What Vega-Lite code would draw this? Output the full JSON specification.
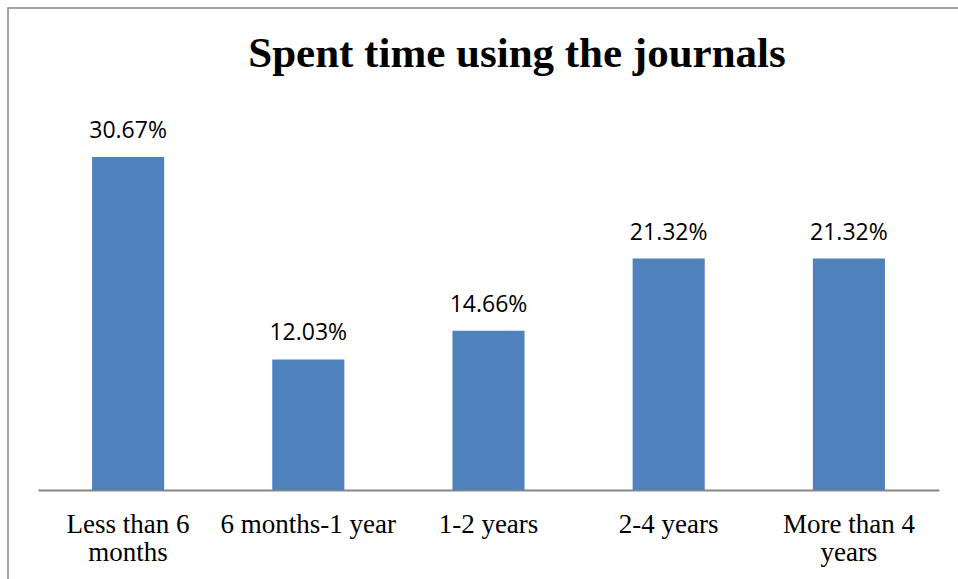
{
  "$schema": "https://vega.github.io/schema/vega-lite/v6.json",
  "autosize": {"type": "none"},
  "padding": {"left": 8, "top": 8, "right": 0, "bottom": 0},
  "width": 962,
  "height": 584,
  "background": "white",
  "config": {
    "view": {"stroke": "#868686", "strokeWidth": 1.5},
    "axis": {"grid": false}
  },
  "title": {
    "text": "Spent time using the journals",
    "font": "Liberation Serif",
    "fontSize": 43,
    "fontWeight": "bold",
    "color": "black",
    "anchor": "middle",
    "baseline": "alphabetic",
    "offset": 0,
    "dx": 28,
    "dy": 102
  },
  "data": {
    "values": [
      {"period": "Less than 6 months", "pct": 30.67},
      {"period": "6 months-1 year", "pct": 12.03},
      {"period": "1-2 years", "pct": 14.66},
      {"period": "2-4 years", "pct": 21.32},
      {"period": "More than 4 years", "pct": 21.32}
    ]
  },
  "transform": [
    {"calculate": "format(datum.pct, '.2f') + '%'", "as": "label"}
  ],
  "encoding": {
    "x": {
      "field": "period",
      "type": "nominal",
      "sort": null,
      "scale": {"range": [30, 931], "paddingInner": 0.6, "paddingOuter": 0.3},
      "axis": {
        "title": null,
        "offset": -102,
        "ticks": false,
        "tickSize": 0,
        "domainColor": "#868686",
        "domainWidth": 2,
        "labelAngle": 0,
        "labelFont": "Liberation Serif",
        "labelFontSize": 27,
        "labelColor": "black",
        "labelBaseline": "alphabetic",
        "labelPadding": 42,
        "labelLineHeight": 28,
        "labelLimit": 0,
        "labelExpr": "datum.label == 'Less than 6 months' ? ['Less than 6', 'months'] : datum.label == 'More than 4 years' ? ['More than 4', 'years'] : datum.label"
      }
    },
    "y": {
      "field": "pct",
      "type": "quantitative",
      "scale": {"domain": [0, 35], "range": [482, 102], "nice": false},
      "axis": null
    }
  },
  "layer": [
    {"mark": {"type": "bar", "color": "#4F81BD"}},
    {
      "mark": {
        "type": "text",
        "font": "Open Sans",
        "fontSize": 23,
        "color": "black",
        "baseline": "alphabetic",
        "dy": -19
      },
      "encoding": {"text": {"field": "label"}}
    }
  ]
}
